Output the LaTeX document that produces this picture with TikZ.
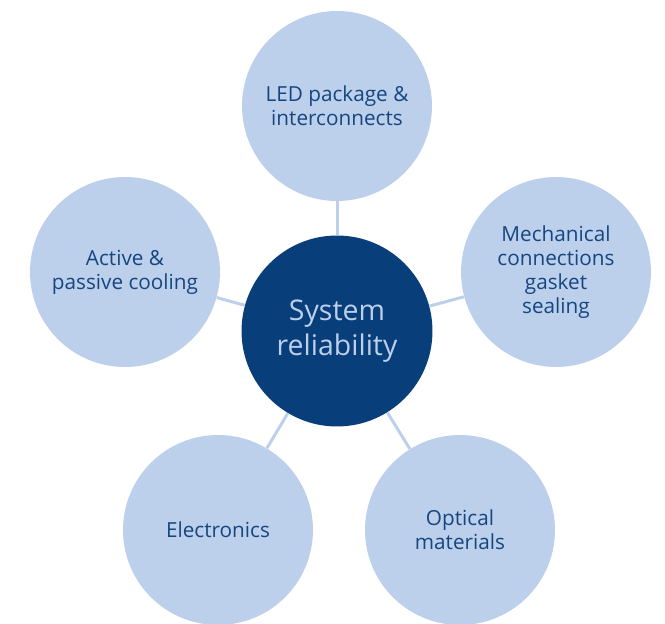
\documentclass[tikz,border=0pt]{standalone}
\usepackage{fontspec}
\setmainfont{Open Sans}
\usepackage{tikz}
\usepackage{xcolor}
\definecolor{paleblue}{RGB}{188,208,236}
\definecolor{navyblue}{RGB}{8,62,122}
\definecolor{inkblue}{RGB}{22,70,128}

\begin{document}
\begin{tikzpicture}[x=0.02cm,y=-0.02cm,
    topic/.style={circle,fill=paleblue,minimum size=3.8cm,inner sep=0pt,
      align=center,text=inkblue,font=\fontsize{11.8}{13.6}\selectfont},
    core/.style={circle,fill=navyblue,minimum size=3.82cm,inner sep=0pt,
      align=center,text=paleblue,font=\fontsize{16.2}{19.8}\selectfont},
    link/.style={paleblue,line width=1.7pt}]
        \useasboundingbox (0,0) rectangle (665,624);
        % Centre
        \node[core] (sys) at (337,331) {System\\reliability};
        % Factors
        \node[topic] (led) at (337,106) {LED package \&\\interconnects};
        \node[topic] (cool) at (125,272) {Active \&\\passive cooling};
        \node[topic] (mech) at (556,272)
          {Mechanical\\connections\\gasket\\sealing};
        \node[topic] (elec) at (218,530) {Electronics};
        \node[topic] (optic) at (460,530) {Optical\\materials};
        % Links
        \draw[link] (sys) -- (led);
        \draw[link] (sys) -- (cool);
        \draw[link] (sys) -- (mech);
        \draw[link] (sys) -- (elec);
        \draw[link] (sys) -- (optic);
      \end{tikzpicture}
\end{document}
